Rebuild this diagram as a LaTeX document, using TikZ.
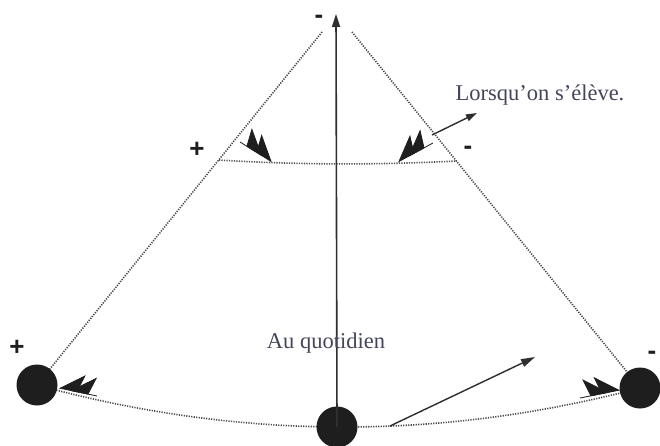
\documentclass[tikz,border=0pt]{standalone}
\usepackage{fontspec}
\setmainfont{Liberation Serif}
\newfontfamily\signfont{Liberation Sans}
\usetikzlibrary{arrows.meta}
\definecolor{ballc}{HTML}{1E1E1E}
\definecolor{linec}{HTML}{2E2E2E}
\definecolor{dotc}{HTML}{4A4A4A}
\definecolor{txtc}{HTML}{45455A}
\begin{document}
\begin{tikzpicture}[x=1pt,y=-1pt,
  ball/.style={circle,fill=ballc,minimum size=41pt,inner sep=0pt},
  dots/.style={draw=dotc,line width=1.6pt,dash pattern=on 1.2pt off 1.3pt},
  lbl/.style={font=\fontsize{22.5}{26}\selectfont,text=txtc,inner sep=0pt},
  sgn/.style={font=\signfont\bfseries\fontsize{26}{28}\selectfont,text=ballc,inner sep=0pt},
  vec/.style={draw=linec,line width=1.6pt},
  harpL/.style={draw=ballc,line width=0.8pt,
    -{Stealth[harpoon,length=23pt,width=36pt,inset=5pt,sep=-12pt]Stealth[harpoon,length=23pt,width=36pt,inset=5pt]}},
  harpR/.style={draw=ballc,line width=0.8pt,
    -{Stealth[harpoon,swap,length=23pt,width=36pt,inset=5pt,sep=-12pt]Stealth[harpoon,swap,length=23pt,width=36pt,inset=5pt]}}
]
\useasboundingbox (0,0) rectangle (660,446);
\fill[white] (0,0) rectangle (660,446);

% coordinates
\coordinate (top) at (336,14);
\coordinate (lt) at (322,32);
\coordinate (rt) at (352,32);
\coordinate (ul) at (219,160);
\coordinate (ur) at (457,161);
\coordinate (Lc) at (37,385);
\coordinate (Rc) at (640,388);
\coordinate (Bc) at (337,427);

% dotted lines
\draw[dots] (lt) -- (Lc);
\draw[dots] (rt) -- (Rc);
\draw[dots] (ul) .. controls (298,165) and (378,165) .. (ur);
\draw[dots] (Lc) .. controls (238,440) and (439,441) .. (Rc);

% balls
\node[ball] (L) at (Lc) {};
\node[ball] (R) at (Rc) {};
\node[ball] (B) at (Bc) {};

% vertical arrow
\draw[vec,-{Triangle[length=13pt,width=8pt]}] (B.center) -- (top);

% other arrows
\coordinate (a1) at (390,426);
\coordinate (a2) at (535,357);
\draw[vec,line width=1.4pt,-{Triangle[length=14pt,width=8pt]}] (a1) -- (a2);
\coordinate (s1) at (432,135);
\coordinate (s2) at (477,113);
\draw[vec,line width=1.4pt,-{Triangle[length=11pt,width=7pt]}] (s1) -- (s2);

% harpoon heads
\coordinate (h1a) at (240,142); \coordinate (h1b) at (272,162);
\coordinate (h2a) at (433,143); \coordinate (h2b) at (398,162);
\coordinate (h3a) at (97,396);  \coordinate (h3b) at (59,388);
\coordinate (h4a) at (580,398); \coordinate (h4b) at (620,390);
\draw[harpL] (h1a) -- (h1b);
\draw[harpR] (h2a) -- (h2b);
\draw[harpR] (h3a) -- (h3b);
\draw[harpL] (h4a) -- (h4b);

% labels
\node[lbl] (t1) at (540,95) {Lorsqu'on s'élève.};
\node[lbl] (t2) at (326,343) {Au quotidien};
\node[sgn] (p1) at (197,150) {+};
\node[sgn] (m1) at (468,150) {-};
\node[sgn] (p2) at (17,348) {+};
\node[sgn] (m2) at (652,355) {-};
\node[sgn] (m3) at (319,19) {-};
\end{tikzpicture}
\end{document}
